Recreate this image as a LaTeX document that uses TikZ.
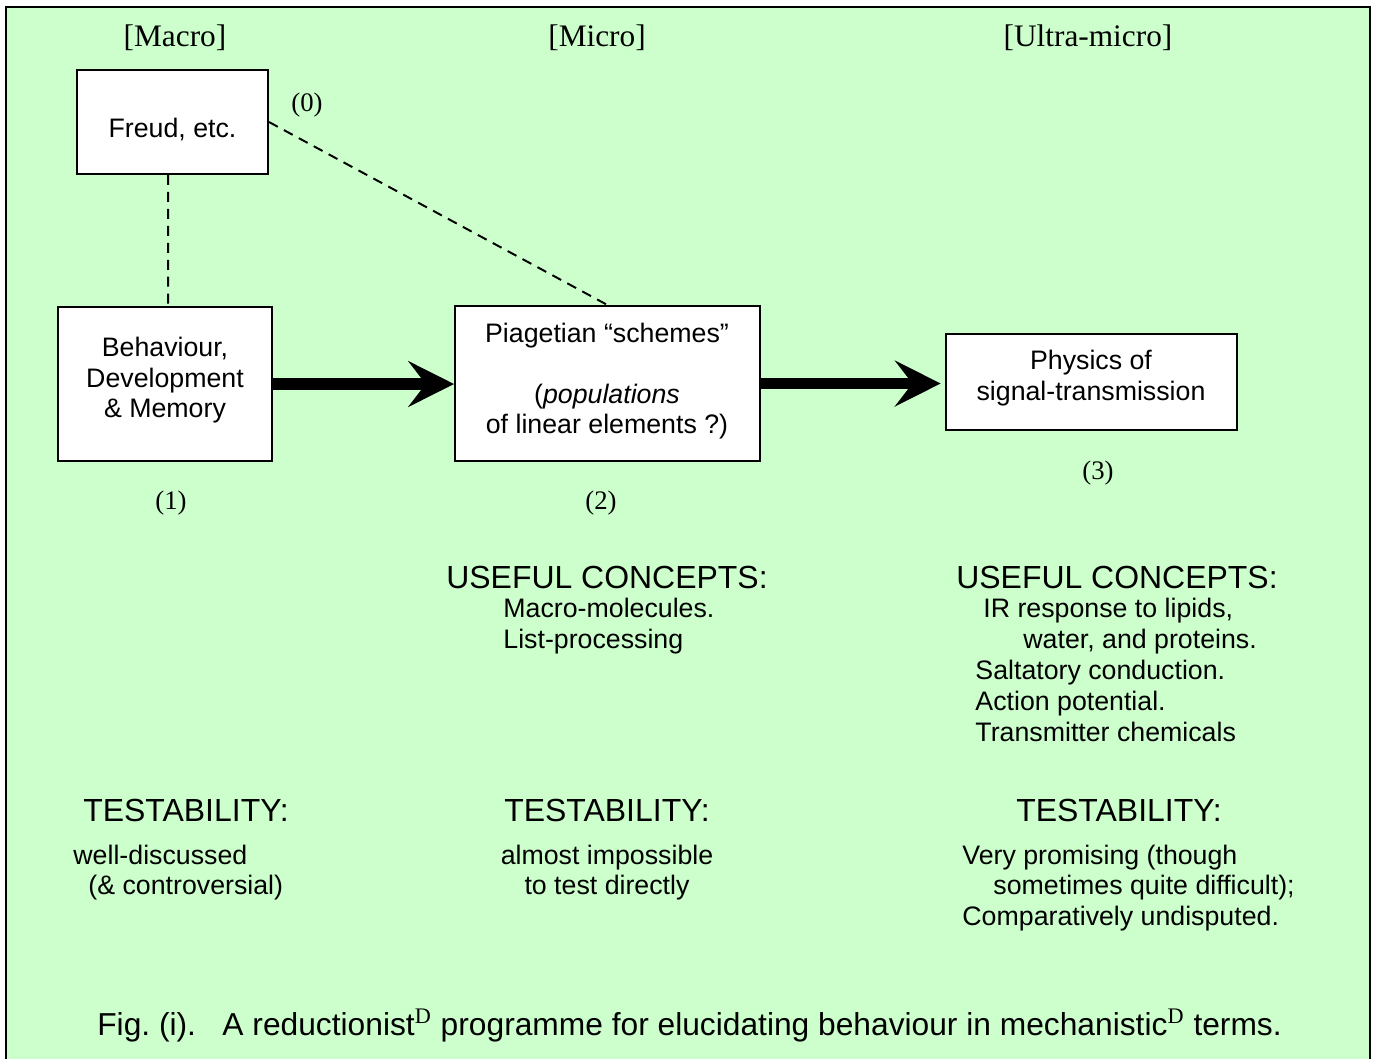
\documentclass[tikz,border=0pt]{standalone}
\usepackage{fontspec}
\setmainfont{Liberation Serif}
\setsansfont{Liberation Sans}
\usetikzlibrary{arrows.meta,fit}
\definecolor{bgc}{HTML}{CCFFCC}
\frenchspacing
\begin{document}
\begin{tikzpicture}[x=0.46pt,y=-0.46pt,
  boxs/.style={draw=black,line width=0.9pt,fill=white,inner sep=0pt},
  t12/.style={font=\sffamily\fontsize{12.3}{14}\selectfont,inner sep=0pt,anchor=base},
  t14/.style={font=\sffamily\fontsize{14.7}{16}\selectfont,inner sep=0pt,anchor=base},
  s14/.style={font=\rmfamily\fontsize{14.4}{16}\selectfont,inner sep=0pt,anchor=base},
  s12/.style={font=\rmfamily\fontsize{12.3}{14}\selectfont,inner sep=0pt,anchor=base},
  lft/.style={anchor=base west},
  dsh/.style={draw=black,line width=0.9pt,dash pattern=on 4.6pt off 3.2pt},
  big/.style={draw=black,line width=5.5pt,-{Stealth[length=21pt,width=21pt,inset=8pt]}}
]
\useasboundingbox (0,0) rectangle (1380,1059);
\fill[bgc] (6,7) rectangle (1370,1059);
\draw[line width=0.9pt] (6,1059) -- (6,7) -- (1370,7) -- (1370,1059);

% boxes
\node[boxs,fit={(77,70)(268,174)}] (freud) {};
\node[boxs,fit={(58,307)(272,461)}] (beh) {};
\node[boxs,fit={(455,306)(760,461)}] (pia) {};
\node[boxs,fit={(946,334)(1237,430)}] (phy) {};

% connectors
\draw[dsh] ([xshift=-2pt]freud.south) -- ([xshift=1.4pt]beh.north);
\draw[dsh] (freud.east) -- (pia.north);
\draw[big] (beh.east) -- (beh.east -| pia.west);
\draw[big,shorten >=2pt] (pia.east) -- (pia.east -| phy.west);

% headers
\node[s14] (hmacro) at (175,46) {[Macro]};
\node[s14] (hmicro) at (597,46) {[Micro]};
\node[s14] (hultra) at (1088,46) {[Ultra-micro]};

% box texts
\node[t12] (freudt) at (172.5,137) {Freud, etc.};
\node[t12] (beh1) at (165,356) {Behaviour,};
\node[t12] (beh2) at (165,387) {Development};
\node[t12] (beh3) at (165,417) {\& Memory};
\node[t12] (pia1) at (607,342) {Piagetian “schemes”};
\node[t12] (pia2) at (607,403) {(\textit{populations}};
\node[t12] (pia3) at (607,433) {of linear elements ?)};
\node[t12] (phy1) at (1091,369) {Physics of};
\node[t12] (phy2) at (1091,400) {signal-transmission};

% numbers
\node[s12] (n0) at (307,111) {(0)};
\node[s12] (n1) at (171,509) {(1)};
\node[s12] (n2) at (601,509) {(2)};
\node[s12] (n3) at (1098,479) {(3)};

% useful concepts
\node[t14] (uc2) at (607,588) {USEFUL CONCEPTS:};
\node[t12,lft] (uc2a) at (503,617) {Macro-molecules.};
\node[t12,lft] (uc2b) at (503,648) {List-processing};
\node[t14] (uc3) at (1117,588) {USEFUL CONCEPTS:};
\node[t12,lft] (uc3a) at (983,617) {IR response to lipids,};
\node[t12,lft] (uc3b) at (1023,648) {water, and proteins.};
\node[t12,lft] (uc3c) at (975,679) {Saltatory conduction.};
\node[t12,lft] (uc3d) at (975,710) {Action potential.};
\node[t12,lft] (uc3e) at (975,741) {Transmitter chemicals};

% testability
\node[t14] (ts1) at (186,821) {TESTABILITY:};
\node[t14] (ts2) at (607,821) {TESTABILITY:};
\node[t14] (ts3) at (1119,821) {TESTABILITY:};
\node[t12,lft] (ts1a) at (73,864) {well-discussed};
\node[t12,lft] (ts1b) at (88,894) {(\& controversial)};
\node[t12] (ts2a) at (607,864) {almost impossible};
\node[t12] (ts2b) at (607,894) {to test directly};
\node[t12,lft] (ts3a) at (962,864) {Very promising (though};
\node[t12,lft] (ts3b) at (993,894) {sometimes quite difficult);};
\node[t12,lft] (ts3c) at (962,925) {Comparatively undisputed.};

% caption
\node[t14,font=\sffamily\fontsize{14.6}{16}\selectfont] (cap) at (689.5,1035) {Fig. (i).\ \ \ A reductionist\textsuperscript{\rmfamily D} programme for elucidating behaviour in mechanistic\textsuperscript{\rmfamily D} terms.};
\end{tikzpicture}
\end{document}
